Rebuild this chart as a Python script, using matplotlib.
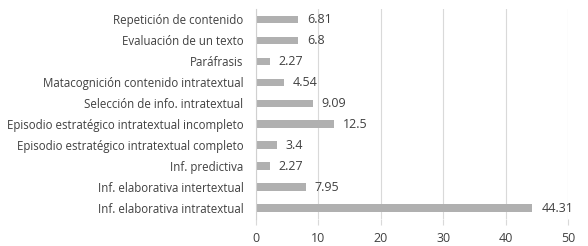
import matplotlib.pyplot as plt

categories = [
    "Inf. elaborativa intratextual",
    "Inf. elaborativa intertextual",
    "Inf. predictiva",
    "Episodio estratégico intratextual completo",
    "Episodio estratégico intratextual incompleto",
    "Selección de info. intratextual",
    "Matacognición contenido intratextual",
    "Paráfrasis",
    "Evaluación de un texto",
    "Repetición de contenido",
]
values = [44.31, 7.95, 2.27, 3.4, 12.5, 9.09, 4.54, 2.27, 6.8, 6.81]
value_labels = ["44.31", "7.95", "2.27", "3.4", "12.5", "9.09", "4.54", "2.27", "6.8", "6.81"]
x_ticks = [0, 10, 20, 30, 40, 50]

plt.rcParams["font.family"] = ["Open Sans", "DejaVu Sans"]

fig = plt.figure(figsize=(5.88, 2.46), dpi=100, facecolor="white")
ax = fig.add_axes([256 / 588, 27.5 / 246, 312 / 588, 209.5 / 246])

ypos = range(len(categories))
ax.barh(ypos, values, height=0.36, color="#b0b0b0", zorder=2)
for y, v, lab in zip(ypos, values, value_labels):
    ax.text(v + 1.4, y, lab, va="center", ha="left", fontsize=9, color="#404040")

ax.set_xlim(0, 50)
ax.set_ylim(-0.5, len(categories) - 0.5)
ax.set_xticks(x_ticks)
ax.set_xticklabels([str(t) for t in x_ticks])
ax.set_yticks(list(ypos))
ax.set_yticklabels(categories)
ax.grid(axis="x", color="#d9d9d9", lw=0.8, zorder=0)
for s in ["top", "right", "bottom"]:
    ax.spines[s].set_visible(False)
ax.spines["left"].set_color("#d0d0d0")
ax.tick_params(axis="y", length=0, pad=9, labelsize=8.3, labelcolor="#404040")
ax.tick_params(axis="x", length=4, color="#d9d9d9", pad=6, labelsize=9, labelcolor="#404040")

fig.savefig("out.png", dpi=100, facecolor="white")
